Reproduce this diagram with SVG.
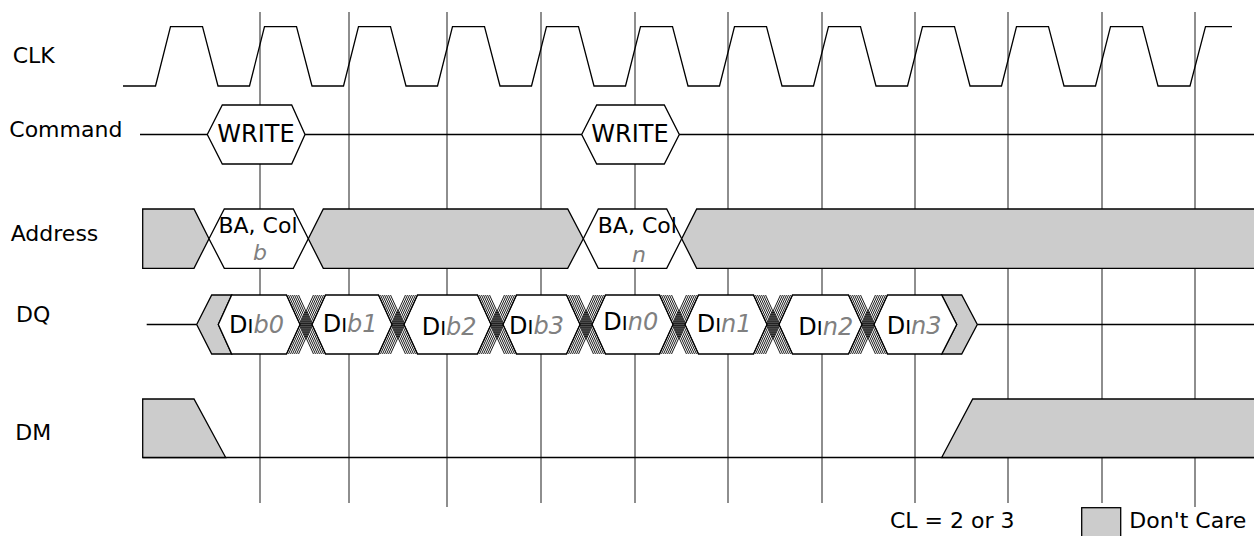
<svg xmlns="http://www.w3.org/2000/svg" xmlns:xlink="http://www.w3.org/1999/xlink" width="1254" height="536" viewBox="0 0 1254 536">
<style>
text{font-family:"DejaVu Sans",Verdana,sans-serif;fill:#000}
.lbl{font-size:22px}
.big{font-size:24px}
.v{font-style:italic;fill:#808080}
.sc{font-size:20px}
.grid{stroke:#444;stroke-width:1.2;fill:none}
.sig{stroke:#000;stroke-width:1.3;fill:none}
.dc{fill:#cccccc;stroke:#000;stroke-width:1.3}
.wh{fill:#fff;stroke:#000;stroke-width:1.3}
.xb{stroke:#000;stroke-width:0.9;fill:none}
</style>
<defs>
<path id="xh" class="xb" d="M-19.5,-29.5L7.5,29.5M-17.5,-29.5L9.5,29.5M-15.5,-29.5L11.5,29.5M-13.5,-29.5L13.5,29.5M-11.5,-29.5L15.5,29.5M-9.5,-29.5L17.5,29.5M-7.5,-29.5L19.5,29.5M7.5,-29.5L-19.5,29.5M9.5,-29.5L-17.5,29.5M11.5,-29.5L-15.5,29.5M13.5,-29.5L-13.5,29.5M15.5,-29.5L-11.5,29.5M17.5,-29.5L-9.5,29.5M19.5,-29.5L-7.5,29.5"/>
</defs>
<rect width="1254" height="536" fill="#fff"/>
<g id="grid" class="grid">
<path d="M260,12V503M349,12V503M447,12V507M541,12V503M635,12V503M728,12V503M822,12V503M915,12V503M1008,12V503M1102,12V503M1195,12V507"/>
</g>
<g id="labels">
<text class="lbl" x="12.7" y="63.3">CLK</text>
<text class="lbl" x="9.3" y="136.7">Command</text>
<text class="lbl" x="10.7" y="241">Address</text>
<text class="lbl" x="16" y="321.7">DQ</text>
<text class="lbl" x="15.3" y="440">DM</text>
</g>
<g id="clk">
<path class="sig" d="M123,86H155.5L170.5,26.7H202.5L218,86H249.5L264.5,26.7H296.5L312,86H343.5L358.5,26.7H390.5L406,86H437.5L452.5,26.7H484.5L500,86H531.5L546.5,26.7H578.5L594,86H625.5L640.5,26.7H672.5L688,86H719.5L734.5,26.7H766.5L782,86H813.5L828.5,26.7H860.5L876,86H907.5L922.5,26.7H954.5L970,86H1001.5L1016.5,26.7H1048.5L1064,86H1095.5L1110.5,26.7H1142.5L1158,86H1190L1205.5,26.7H1232"/>
</g>
<g id="command">
<path class="sig" d="M140,134.5H1254"/>
<g id="write1"><polygon class="wh" points="207.3,134.5 222.3,105 291.7,105 305,134.5 291.7,164 222.3,164"/><text class="big" x="256" y="141.7" text-anchor="middle">WRITE</text></g>
<g id="write2"><polygon class="wh" points="581.7,134.5 596.7,105 664.3,105 679.3,134.5 664.3,164 596.7,164"/><text class="big" x="630" y="141.7" text-anchor="middle">WRITE</text></g>
</g>
<g id="address">
<polygon class="dc" points="142.7,209 194,209 209,238.7 194,268.3 142.7,268.3"/>
<g id="addr-b"><polygon class="wh" points="209,238.7 224.3,209 293.3,209 308.3,238.7 293.3,268.3 224.3,268.3"/>
<text class="lbl" x="258" y="233.3" text-anchor="middle">BA, Col</text><text class="lbl v" x="260" y="260" text-anchor="middle">b</text></g>
<polygon class="dc" points="308.3,238.7 323.3,209 567.7,209 583.3,238.7 567.7,268.3 323.3,268.3"/>
<g id="addr-n"><polygon class="wh" points="583.3,238.7 598.3,209 666.7,209 681.7,238.7 666.7,268.3 598.3,268.3"/>
<text class="lbl" x="637.3" y="233.3" text-anchor="middle">BA, Col</text><text class="lbl v" x="639" y="261.7" text-anchor="middle">n</text></g>
<polygon class="dc" points="681.7,238.7 696.7,209 1260,209 1260,268.3 696.7,268.3"/>
</g>
<g id="dq">
<path class="sig" d="M146.7,324.5H196.7M977.3,324.5H1254"/>
<polygon class="dc" points="196.7,324.5 211.7,295 231.7,295 218.3,324.5 231.7,354 211.7,354"/>
<polygon class="dc" points="941.7,295 961.7,295 977.3,324.5 961.7,354 941.7,354 956.7,324.5"/>
<g id="dib0"><polygon class="wh" points="218.3,324.5 231.7,295 286.5,295 300,324.5 286.5,354 231.7,354"/><text class="big" x="229" y="333">D<tspan class="sc">I</tspan><tspan class="v">b0</tspan></text></g>
<g id="dib1"><polygon class="wh" points="312,324.5 325.5,295 378.5,295 392,324.5 378.5,354 325.5,354"/><text class="big" x="322.7" y="331.7">D<tspan class="sc">I</tspan><tspan class="v">b1</tspan></text></g>
<g id="dib2"><polygon class="wh" points="404,324.5 417.5,295 477.5,295 491,324.5 477.5,354 417.5,354"/><text class="big" x="421.7" y="335">D<tspan class="sc">I</tspan><tspan class="v">b2</tspan></text></g>
<g id="dib3"><polygon class="wh" points="503,324.5 516.5,295 566.5,295 580,324.5 566.5,354 516.5,354"/><text class="big" x="509" y="334">D<tspan class="sc">I</tspan><tspan class="v">b3</tspan></text></g>
<g id="din0"><polygon class="wh" points="592,324.5 605.5,295 659.5,295 673,324.5 659.5,354 605.5,354"/><text class="big" x="603.3" y="330">D<tspan class="sc">I</tspan><tspan class="v">n0</tspan></text></g>
<g id="din1"><polygon class="wh" points="685,324.5 698.5,295 753.5,295 767,324.5 753.5,354 698.5,354"/><text class="big" x="696.7" y="331.7">D<tspan class="sc">I</tspan><tspan class="v">n1</tspan></text></g>
<g id="din2"><polygon class="wh" points="779,324.5 792.5,295 848.5,295 862,324.5 848.5,354 792.5,354"/><text class="big" x="798.3" y="335">D<tspan class="sc">I</tspan><tspan class="v">n2</tspan></text></g>
<g id="din3"><polygon class="wh" points="874,324.5 887.5,295 941.7,295 956.7,324.5 941.7,354 887.5,354"/><text class="big" x="886.7" y="334.3">D<tspan class="sc">I</tspan><tspan class="v">n3</tspan></text></g>
<use xlink:href="#xh" href="#xh" x="306" y="324.5"/>
<use xlink:href="#xh" href="#xh" x="398" y="324.5"/>
<use xlink:href="#xh" href="#xh" x="497" y="324.5"/>
<use xlink:href="#xh" href="#xh" x="586" y="324.5"/>
<use xlink:href="#xh" href="#xh" x="679" y="324.5"/>
<use xlink:href="#xh" href="#xh" x="773" y="324.5"/>
<use xlink:href="#xh" href="#xh" x="868" y="324.5"/>
</g>
<g id="dm">
<path class="sig" d="M142.7,457.5H1254"/>
<polygon class="dc" points="142.7,399 194,399 225.7,457.5 142.7,457.5"/>
<polygon class="dc" points="941.7,457.5 972.7,399 1260,399 1260,457.5"/>
</g>
<g id="legend">
<text class="lbl" x="890" y="528">CL = 2 or 3</text>
<rect class="dc" x="1081.7" y="507.7" width="39" height="40"/>
<text class="lbl" x="1129.3" y="528">Don't Care</text>
</g>
</svg>
